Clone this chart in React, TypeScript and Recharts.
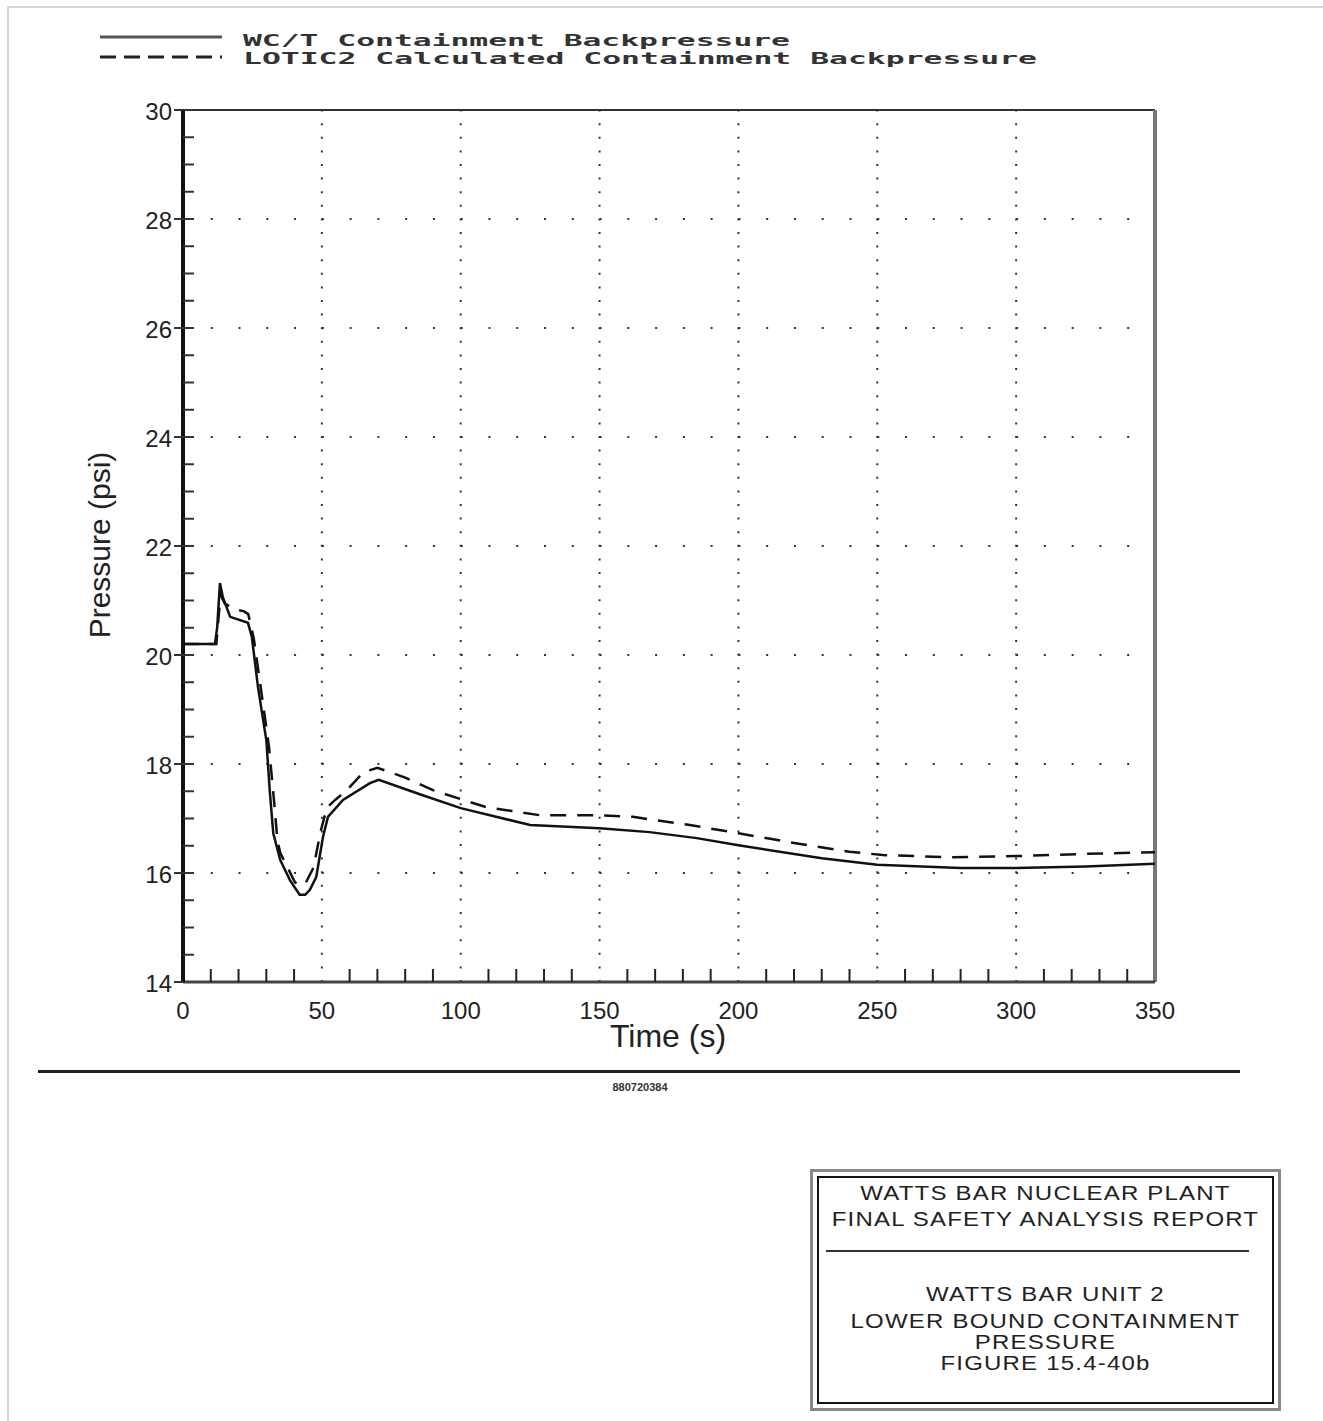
import { LineChart, Line, XAxis, YAxis, ReferenceLine } from "recharts";

// WC/T Containment Backpressure (solid)
const wctTime = [0, 11.5, 12.3, 13.3, 14.4, 17, 23.4, 24.8, 27, 30, 31.3, 32.5, 35, 38.5, 42, 44, 45.7, 48, 50.4, 52.2, 57.6, 67.3, 70.5, 85, 100, 125, 150, 168, 185, 200, 230, 250, 280, 300, 325, 350];
const wctPressure = [20.2, 20.2, 20.5, 21.32, 21.05, 20.7, 20.59, 20.33, 19.41, 18.44, 17.47, 16.73, 16.24, 15.87, 15.6, 15.6, 15.69, 15.93, 16.66, 17.03, 17.34, 17.65, 17.71, 17.45, 17.19, 16.88, 16.82, 16.75, 16.64, 16.51, 16.27, 16.15, 16.09, 16.09, 16.12, 16.17];

// LOTIC2 Calculated Containment Backpressure (dashed)
const loticTime = [0, 12, 13.5, 15, 18, 22, 23.5, 25.5, 28, 31, 33, 34, 35, 36.7, 40.3, 42, 44, 47, 49.5, 51.8, 55, 59, 65, 70, 80, 90, 109, 128.5, 149, 162, 182.5, 200, 220, 240, 252, 276, 300, 324, 350];
const loticPressure = [20.2, 20.2, 21.1, 20.95, 20.85, 20.8, 20.75, 20.3, 19.4, 18.3, 17.2, 16.6, 16.37, 16.2, 15.83, 15.78, 15.8, 16.1, 16.75, 17.2, 17.35, 17.52, 17.85, 17.93, 17.75, 17.52, 17.21, 17.06, 17.06, 17.03, 16.88, 16.73, 16.55, 16.39, 16.33, 16.29, 16.31, 16.35, 16.38];

const timeTicks = [0, 10, 20, 30, 40, 50, 60, 70, 80, 90, 100, 110, 120, 130, 140, 150, 160, 170, 180, 190, 200, 210, 220, 230, 240, 250, 260, 270, 280, 290, 300, 310, 320, 330, 340, 350];
const timeLabels = [0, 50, 100, 150, 200, 250, 300, 350];
const pressureTicks = [14, 14.5, 15, 15.5, 16, 16.5, 17, 17.5, 18, 18.5, 19, 19.5, 20, 20.5, 21, 21.5, 22, 22.5, 23, 23.5, 24, 24.5, 25, 25.5, 26, 26.5, 27, 27.5, 28, 28.5, 29, 29.5, 30];
const pressureLabels = [14, 16, 18, 20, 22, 24, 26, 28, 30];
const gridTimes = [50, 100, 150, 200, 250, 300];
const gridPressures = [16, 18, 20, 22, 24, 26, 28];

const wctData = wctTime.map((t, i) => ({ time: t, pressure: wctPressure[i] }));
const loticData = loticTime.map((t, i) => ({ time: t, pressure: loticPressure[i] }));

const labelFont = "'Liberation Sans Narrow', 'Liberation Sans', Arial, sans-serif";

const PressureTick = (props: any) => {
  const { x, y, payload } = props;
  const v = payload.value;
  const major = pressureLabels.includes(v);
  return (
    <g>
      {v !== 14 && v !== 30 && (
        <line x1={x} x2={x + 11} y1={y} y2={y} stroke="#333" strokeWidth={2} />
      )}
      {major && <line x1={x - 9} x2={x} y1={y} y2={y} stroke="#333" strokeWidth={2} />}
      {major && (
        <text x={x - 11} y={y + 1} textAnchor="end" dominantBaseline="central" fontFamily={labelFont} fontSize={24} fill="#222">
          {v}
        </text>
      )}
    </g>
  );
};

const TimeTick = (props: any) => {
  const { x, y, payload } = props;
  const v = payload.value;
  const major = timeLabels.includes(v);
  return (
    <g>
      {!major && <line x1={x} x2={x} y1={y} y2={y - 13} stroke="#222" strokeWidth={2} />}
      {major && (
        <text x={x} y={y + 28} textAnchor="middle" dominantBaseline="central" fontFamily={labelFont} fontSize={24} fill="#222">
          {v}
        </text>
      )}
    </g>
  );
};

const boxLine = {
  fontFamily: "'Liberation Sans', Arial, sans-serif",
  fontSize: 20,
  letterSpacing: 1,
  color: "#222",
  textAlign: "center" as const,
  position: "absolute" as const,
  left: 0,
  width: "100%",
  lineHeight: "20px",
  transform: "scaleX(1.2)",
};

const legendFont = "'DejaVu Sans Mono', monospace";

export default function App() {
  return (
    <div style={{ position: "absolute", top: 0, left: 0, width: 1323, height: 1421, background: "#fff", overflow: "hidden" }}>
      {/* faint scan frame */}
      <div style={{ position: "absolute", left: 7, top: 6, width: 1316, height: 1415, borderLeft: "2px solid #d4d4d4", borderTop: "2px solid #d4d4d4" }} />

      <LineChart width={1323} height={1421} data={wctData} margin={{ top: 110, right: 168, bottom: 399, left: 123 }}>
        <XAxis
          dataKey="time"
          type="number"
          domain={[0, 350]}
          ticks={timeTicks}
          interval={0}
          height={40}
          tickSize={0}
          tickMargin={0}
          tick={<TimeTick />}
          axisLine={{ stroke: "#444", strokeWidth: 3 }}
          tickLine={false}
          allowDataOverflow
        />
        <YAxis
          type="number"
          domain={[14, 30]}
          ticks={pressureTicks}
          interval={0}
          width={60}
          tickSize={0}
          tickMargin={0}
          tick={<PressureTick />}
          axisLine={{ stroke: "#111", strokeWidth: 4 }}
          tickLine={false}
          allowDataOverflow
        />
        {gridPressures.map((p) => (
          <ReferenceLine key={`h${p}`} y={p} stroke="#333" strokeWidth={2} strokeDasharray="2 25.77" />
        ))}
        {gridTimes.map((t) => (
          <ReferenceLine key={`v${t}`} x={t} stroke="#333" strokeWidth={2} strokeDasharray="2 11.6" />
        ))}
        <ReferenceLine y={30} stroke="#333" strokeWidth={2} />
        <ReferenceLine x={350} stroke="#777" strokeWidth={4} />
        <Line data={loticData} dataKey="pressure" type="linear" stroke="#111" strokeWidth={2.5} strokeDasharray="16 11" dot={false} isAnimationActive={false} />
        <Line data={wctData} dataKey="pressure" type="linear" stroke="#111" strokeWidth={2.5} dot={false} isAnimationActive={false} />
      </LineChart>

      {/* legend */}
      <svg style={{ position: "absolute", left: 0, top: 0 }} width={1100} height={80}>
        <line x1={100} x2={222} y1={37} y2={37} stroke="#555" strokeWidth={3} />
        <line x1={100} x2={222} y1={57} y2={57} stroke="#222" strokeWidth={3} strokeDasharray="16 8" />
        <text x={243} y={46} fontFamily={legendFont} fontWeight="bold" fontSize={16} textLength={547} lengthAdjust="spacingAndGlyphs" fill="#333">
          WC/T Containment Backpressure
        </text>
        <text x={243} y={64} fontFamily={legendFont} fontWeight="bold" fontSize={16} textLength={794} lengthAdjust="spacingAndGlyphs" fill="#333">
          LOTIC2 Calculated Containment Backpressure
        </text>
      </svg>

      {/* axis titles */}
      <div style={{ position: "absolute", left: 500, width: 336, top: 1018, textAlign: "center", fontFamily: labelFont, fontSize: 32, color: "#222", lineHeight: "36px" }}>
        Time (s)
      </div>
      <div style={{ position: "absolute", left: 100, top: 545, width: 0, height: 0 }}>
        <div style={{ position: "absolute", left: -150, top: -18, width: 300, textAlign: "center", transform: "rotate(-90deg)", fontFamily: labelFont, fontSize: 30, color: "#222", lineHeight: "36px" }}>
          Pressure (psi)
        </div>
      </div>

      {/* bottom rule */}
      <div style={{ position: "absolute", left: 38, top: 1070, width: 1202, height: 3, background: "#222" }} />
      <div style={{ position: "absolute", left: 590, top: 1081, width: 100, textAlign: "center", fontFamily: "'Liberation Sans', Arial, sans-serif", fontSize: 11, fontWeight: "bold", color: "#333" }}>
        880720384
      </div>

      {/* title box */}
      <div style={{ position: "absolute", left: 810, top: 1169, width: 465, height: 236, border: "3px solid #888" }}>
        <div style={{ position: "absolute", left: 4, top: 4, right: 4, bottom: 4, border: "2px solid #111" }}>
          <div style={{ ...boxLine, top: 5 }}>WATTS BAR NUCLEAR PLANT</div>
          <div style={{ ...boxLine, top: 31 }}>FINAL SAFETY ANALYSIS REPORT</div>
          <div style={{ position: "absolute", left: 7, width: 423, top: 72, height: 1.5, background: "#333" }} />
          <div style={{ ...boxLine, top: 106 }}>WATTS BAR UNIT 2</div>
          <div style={{ ...boxLine, top: 133 }}>LOWER BOUND CONTAINMENT</div>
          <div style={{ ...boxLine, top: 154 }}>PRESSURE</div>
          <div style={{ ...boxLine, top: 175 }}>FIGURE 15.4-40b</div>
        </div>
      </div>
    </div>
  );
}
